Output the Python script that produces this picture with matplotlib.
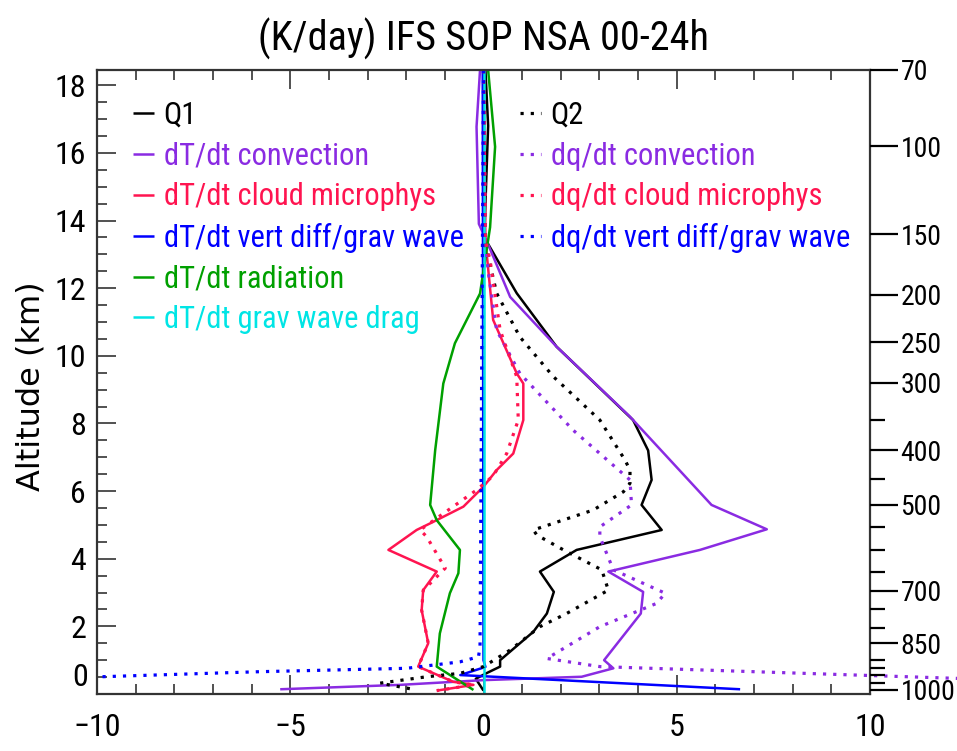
import matplotlib
matplotlib.use("Agg")
import matplotlib.pyplot as plt
from matplotlib.ticker import FixedLocator, MultipleLocator, NullFormatter
from matplotlib import transforms

# ---- profiles: altitude (km) and tendency (K/day) ----
q1_z = [18.45, 16.8, 13.5, 11.85, 10.27, 8.1, 7.2, 6.33, 5.59, 4.85, 4.26, 3.62, 3.02, 2.38, 1.84, 1.0, 0.81, 0.6, 0.45, 0.1]
q1_v = [0.05, 0.12, 0.02, 0.86, 1.89, 3.87, 4.26, 4.35, 4.09, 4.61, 2.41, 1.46, 1.82, 1.64, 1.29, 0.43, 0.43, 0.05, -0.2, 0.0]

conv_z = [18.45, 16.77, 13.9, 13.4, 11.74, 10.27, 8.2, 5.59, 4.87, 4.26, 3.62, 3.02, 2.38, 1.0, 0.76, 0.51, 0.41, 0.27, 0.14]
conv_v = [-0.09, -0.18, -0.12, 0.08, 0.69, 1.89, 3.79, 5.9, 7.33, 5.6, 3.23, 4.13, 4.07, 3.12, 3.36, 2.54, 0.0, -2.16, -5.26]

micro_z = [18.45, 13.4, 11.06, 9.48, 9.18, 8.1, 7.11, 6.62, 6.13, 5.54, 5.09, 4.85, 4.26, 3.62, 3.07, 2.48, 1.5, 0.81, 0.36, 0.27, 0.1]
micro_v = [0.0, 0.05, 0.25, 0.86, 1.03, 1.03, 0.77, 0.34, 0.0, -0.52, -1.3, -1.73, -2.46, -1.21, -1.56, -1.6, -1.43, -1.69, -0.78, -0.26, -1.21]

vdiff_z = [18.45, 1.0, 0.8, 0.56, 0.14]
vdiff_v = [-0.02, 0.0, 0.05, -0.6, 6.64]

rad_z = [18.45, 16.18, 13.8, 11.84, 10.37, 9.18, 7.21, 5.59, 5.14, 4.26, 3.57, 2.98, 1.79, 0.81, 0.12]
rad_v = [0.12, 0.3, 0.17, -0.09, -0.74, -1.04, -1.25, -1.38, -1.21, -0.61, -0.65, -0.87, -1.13, -1.21, -0.26]

gwd_z = [0.0, 18.45]
gwd_v = [0.0, 0.0]

q2_z = [18.45, 13.3, 11.85, 10.56, 9.38, 8.1, 6.92, 6.62, 6.23, 5.98, 5.44, 4.85, 4.70, 4.26, 3.67, 3.07, 2.38, 1.99, 1.30, 0.81, 0.61, 0.51, 0.32, 0.12]
q2_v = [0.0, 0.05, 0.34, 0.94, 1.81, 3.01, 3.66, 3.79, 3.79, 3.62, 2.84, 1.29, 1.38, 2.07, 3.06, 3.23, 2.15, 1.46, 0.69, 0.0, -0.61, -1.47, -2.68, -1.73]

dqconv_z = [18.45, 13.4, 12.5, 10.76, 9.48, 7.8, 6.33, 5.59, 4.94, 4.65, 3.67, 2.98, 2.68, 1.99, 1.05, 0.81, 0.46]
dqconv_v = [0.0, 0.05, 0.12, 0.34, 0.94, 2.32, 3.79, 3.83, 3.01, 3.01, 3.36, 4.7, 4.48, 3.01, 1.64, 3.01, 12.3]

dqmicro_z = [18.45, 13.4, 12.83, 10.76, 9.38, 8.1, 7.11, 6.45, 6.03, 4.85, 4.65, 3.72, 3.27, 3.07, 2.48, 1.5, 0.81, 0.36, 0.27, 0.1]
dqmicro_v = [0.0, 0.05, 0.17, 0.43, 0.86, 0.9, 0.6, 0.25, -0.18, -1.64, -1.47, -0.99, -1.38, -1.56, -1.6, -1.43, -1.69, -0.78, -0.26, -1.21]

dqvdiff_z = [18.45, 1.4, 1.1, 0.95, 0.76, 0.66, 0.51]
dqvdiff_v = [0.0, -0.09, -0.13, -0.61, -1.99, -5.78, -9.9]

# right-hand pressure axis (hPa) and the altitude of each level (km)
p_labels = ["70", "100", "150", "200", "250", "300", "400", "500", "700", "850", "1000"]
p_alt = [18.45, 16.2, 13.6, 11.8, 10.4, 9.2, 7.2, 5.6, 3.05, 1.5, 0.12]
p_minor_alt = [8.1, 6.35, 4.95, 4.25, 3.6, 2.5, 1.95, 1.0, 0.77, 0.55, 0.33]

alt_ticks = [0, 2, 4, 6, 8, 10, 12, 14, 16, 18]
x_ticks = [-10, -5, 0, 5, 10]

PURPLE = "#8a2be2"
RED = "#ff1450"
BLUE = "#0000ff"
GREEN = "#00a000"
CYAN = "#00e5e5"

NARROW = ["Liberation Sans Narrow", "Roboto Condensed", "Archivo Narrow", "DejaVu Sans"]
plt.rcParams["font.family"] = NARROW
plt.rcParams["axes.unicode_minus"] = True

TICK_FS = 23
P_FS = 20
LEG_FS = 22

W, H = 957, 751
fig = plt.figure(figsize=(W / 100, H / 100), dpi=100)
x0, x1, y0, y1 = 97, 870, 70, 694
ax = fig.add_axes([x0 / W, 1 - y1 / H, (x1 - x0) / W, (y1 - y0) / H])

LW = 1.8
DOT = (0, (1.0, 2.2))

solid = [
    (q1_v, q1_z, "black", "Q1"),
    (conv_v, conv_z, PURPLE, "dT/dt convection"),
    (micro_v, micro_z, RED, "dT/dt cloud microphys"),
    (vdiff_v, vdiff_z, BLUE, "dT/dt vert diff/grav wave"),
    (rad_v, rad_z, GREEN, "dT/dt radiation"),
    (gwd_v, gwd_z, CYAN, "dT/dt grav wave drag"),
]
dotted = [
    (q2_v, q2_z, "black", "Q2"),
    (dqconv_v, dqconv_z, PURPLE, "dq/dt convection"),
    (dqmicro_v, dqmicro_z, RED, "dq/dt cloud microphys"),
    (dqvdiff_v, dqvdiff_z, BLUE, "dq/dt vert diff/grav wave"),
]

h_solid = []
for v, z, c, lab in solid:
    ln, = ax.plot(v, z, color=c, lw=LW, label=lab, solid_capstyle="butt")
    h_solid.append(ln)
h_dot = []
for v, z, c, lab in dotted:
    ln, = ax.plot(v, z, color=c, lw=2.3, linestyle=DOT, label=lab,
                  dash_capstyle="butt")
    h_dot.append(ln)
# the low-level convective moistening runs past the right frame
h_dot[1].set_clip_on(False)

ax.set_xlim(-10, 10)
ax.set_ylim(0, 18.45)

ax.xaxis.set_major_locator(FixedLocator(x_ticks))
ax.xaxis.set_minor_locator(MultipleLocator(1))
ax.yaxis.set_major_locator(FixedLocator(alt_ticks))
ax.yaxis.set_minor_locator(MultipleLocator(0.5))
ax.set_yticklabels([""] + [str(t) for t in alt_ticks[1:]])
ax.tick_params(which="both", direction="in", top=True, right=True,
               labelsize=TICK_FS, width=1.2, color="#333333")
ax.tick_params(which="major", length=14, pad=8)
ax.tick_params(which="minor", length=7)
ax.tick_params(axis="x", pad=14)
for s in ax.spines.values():
    s.set_linewidth(1.6)
    s.set_color("#333333")

# lowest altitude label sits a little above the frame corner
ax.text(-0.012, 0.5, "0", transform=transforms.blended_transform_factory(ax.transAxes, ax.transData),
        ha="right", va="center", fontsize=TICK_FS)

# pressure scale on the right
axp = ax.twinx()
axp.set_ylim(ax.get_ylim())
axp.yaxis.set_major_locator(FixedLocator(p_alt))
axp.yaxis.set_minor_locator(FixedLocator(p_minor_alt))
axp.set_yticklabels(p_labels)
axp.yaxis.set_minor_formatter(NullFormatter())
axp.tick_params(axis="y", which="both", direction="out", labelsize=P_FS, width=1.6, color="black")
axp.tick_params(axis="y", which="major", length=20, pad=2)
axp.tick_params(axis="y", which="minor", length=11)
for s in axp.spines.values():
    s.set_visible(False)

fig.text(483 / W, 1 - 39 / H, "(K/day) IFS SOP NSA 00-24h", ha="center", va="center", fontsize=29)
fig.text(31 / W, 1 - 386 / H, "Altitude (km)", rotation=90, ha="center", va="center",
         fontsize=23, family="DejaVu Sans")

leg_kw = dict(loc="upper left", bbox_transform=fig.transFigure, frameon=False,
              fontsize=LEG_FS, handlelength=0.7, handletextpad=0.3,
              labelspacing=0.38, borderpad=0, borderaxespad=0,
              labelcolor="linecolor")
leg1 = ax.legend(handles=h_solid, bbox_to_anchor=(133 / W, 1 - 101 / H), **leg_kw)
ax.add_artist(leg1)
leg2 = ax.legend(handles=h_dot, bbox_to_anchor=(520 / W, 1 - 101 / H), **leg_kw)

fig.savefig("out.png", dpi=100)
